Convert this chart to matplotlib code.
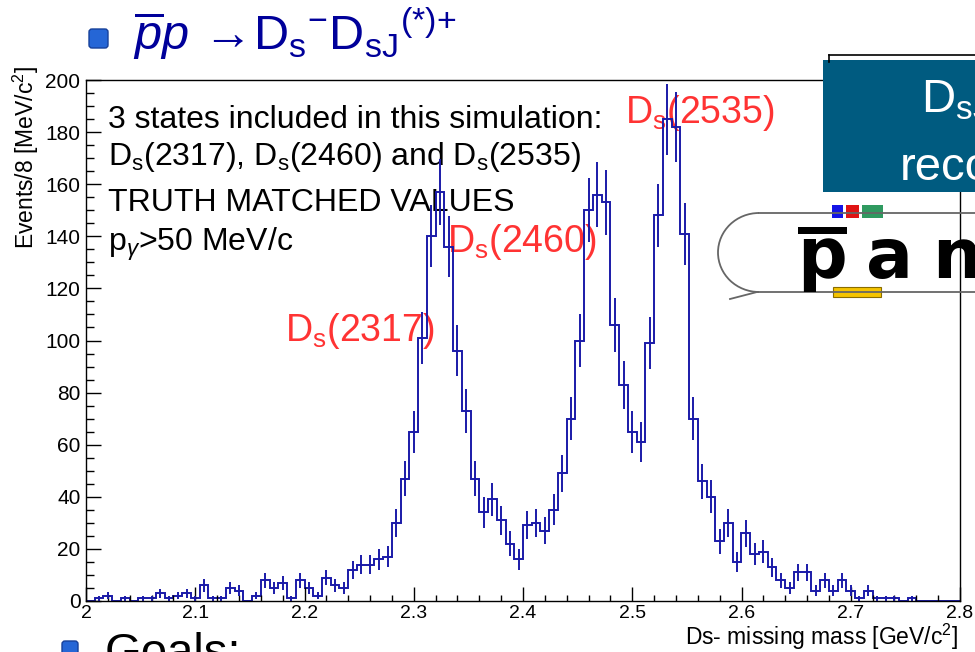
import numpy as np
import matplotlib
matplotlib.use('Agg')
import matplotlib.pyplot as plt
from matplotlib.patches import Rectangle, FancyBboxPatch, Arc
from matplotlib.ticker import MultipleLocator, FixedLocator, FixedFormatter

plt.rcParams['font.family'] = ['Liberation Sans', 'DejaVu Sans']
plt.rcParams['mathtext.fontset'] = 'custom'
plt.rcParams['mathtext.rm'] = 'Liberation Sans'
plt.rcParams['mathtext.it'] = 'Liberation Sans:italic'
plt.rcParams['mathtext.bf'] = 'Liberation Sans:bold'

# Ds- missing mass histogram, 8 MeV bins from 2.0 to 2.8 GeV
mass_lo, mass_hi, n_bins = 2.0, 2.8, 100
low_mass = [0, 1, 2, 0, 1, 0, 1, 1, 3, 1, 2, 3, 1, 6, 1, 1, 5, 4, 0, 2,
            8, 5, 7, 1, 8, 5, 2, 9, 6, 5, 12, 14, 14, 16, 17, 30]
peak_2317 = [47, 65, 101, 140, 157, 136, 96, 73, 47, 34, 39, 31, 22, 16]
peak_2460_2535 = [29, 30, 27, 35, 49, 70, 100, 150, 156, 153, 106, 83, 65, 61,
                  99, 148, 185, 182, 141, 70]
high_tail = [46, 40, 23, 30, 15, 26, 18, 19, 13, 8, 5, 11, 11, 4, 8, 4, 8, 4, 1, 4,
             1, 1, 1, 0, 1, 0, 0, 0, 0, 0]
counts = np.array(low_mass + peak_2317 + peak_2460_2535 + high_tail, dtype=float)

x_ticks = [2.0, 2.1, 2.2, 2.3, 2.4, 2.5, 2.6, 2.7, 2.8]
x_ticklabels = ['2', '2.1', '2.2', '2.3', '2.4', '2.5', '2.6', '2.7', '2.8']
y_ticks = [0, 20, 40, 60, 80, 100, 120, 140, 160, 180, 200]

info_lines = ['3 states included in this simulation:',
              r'D$_\mathrm{s}$(2317), D$_\mathrm{s}$(2460) and D$_\mathrm{s}$(2535)',
              'TRUTH MATCHED VALUES',
              r'p$_\gamma$>50 MeV/c']
state_labels = [r'D$_\mathrm{s}$(2317)', r'D$_\mathrm{s}$(2460)', r'D$_\mathrm{s}$(2535)']

W, H = 975, 652
fig = plt.figure(figsize=(W / 100, H / 100), dpi=100)

# pixel-coordinate layers (below and above the histogram frame)
under = fig.add_axes([0, 0, 1, 1], zorder=0)
under.set_xlim(0, W); under.set_ylim(H, 0); under.axis('off')

ax = fig.add_axes([86 / W, (H - 601) / H, 874 / W, 521 / H], zorder=1)
ax.patch.set_alpha(0)

over = fig.add_axes([0, 0, 1, 1], zorder=2)
over.set_xlim(0, W); over.set_ylim(H, 0); over.axis('off')

# histogram
edges = np.linspace(mass_lo, mass_hi, n_bins + 1)
centers = 0.5 * (edges[:-1] + edges[1:])
hcol = '#1a1aa8'
ax.stairs(counts, edges, color=hcol, lw=1.4)
ax.errorbar(centers, counts, yerr=np.sqrt(counts), fmt='none', ecolor=hcol,
            elinewidth=1.4, capsize=0)

ax.set_xlim(mass_lo, mass_hi)
ax.set_ylim(0, 200)
ax.xaxis.set_major_locator(FixedLocator(x_ticks))
ax.xaxis.set_major_formatter(FixedFormatter(x_ticklabels))
ax.xaxis.set_minor_locator(MultipleLocator(0.02))
ax.yaxis.set_major_locator(FixedLocator(y_ticks))
ax.yaxis.set_minor_locator(MultipleLocator(5))
ax.tick_params(which='both', direction='in', top=False, right=False, width=1.0)
ax.tick_params(axis='x', which='major', length=10, labelsize=14, pad=3)
ax.tick_params(axis='x', which='minor', length=4.5)
ax.tick_params(axis='y', which='major', length=11, labelsize=15, pad=4)
ax.tick_params(axis='y', which='minor', length=5.5)
for s in ax.spines.values():
    s.set_linewidth(1.0)

# axis titles
under.text(958, 645, r'Ds- missing mass [GeV/c$^2$]', fontsize=16.5, ha='right', va='baseline')
under.text(26, 66, r'Events/8 [MeV/c$^2$]', fontsize=16.5, rotation=90, ha='center', va='top')

# text block and state labels (drawn under the histogram line)
for line, yb in zip(info_lines, [128, 165, 211, 251]):
    under.text(108, yb, line, fontsize=23, ha='left', va='baseline', color='black')
for lab, (px, py) in zip(state_labels, [(285, 341), (447, 252), (625, 123)]):
    under.text(px, py, lab, fontsize=27, ha='left', va='baseline', color='#ff3333')

# slide title
over.add_patch(FancyBboxPatch((89, 29), 19, 19, boxstyle='round,pad=0,rounding_size=3',
                              fc='#2566d6', ec='#16409a', lw=1))
over.text(133, 50,
          r'$\overline{p}p\,\rightarrow\!\mathrm{D_s}{}^{-}\mathrm{D_{sJ}}{}^{(*)\!+}$',
          fontsize=35, color='#00009a', ha='left', va='baseline')

# bottom bullet (cut off)
over.add_patch(FancyBboxPatch((62, 641), 16, 16, boxstyle='round,pad=0,rounding_size=3',
                              fc='#2566d6', ec='#16409a', lw=1))
over.text(105, 666, 'Goals:', fontsize=34, ha='left', va='baseline', color='black')

# box behind the teal banner
over.plot([829, 980], [55, 55], color='black', lw=1.2)
over.plot([829, 829], [55, 62], color='black', lw=1.2)
# teal banner
over.add_patch(Rectangle((823, 60), 170, 132, fc='#005b80', ec='none'))
over.text(921, 112, r'D$_\mathrm{sJ}$', fontsize=34, color='white', ha='left', va='baseline')
over.text(900, 180, 'reconstruction', fontsize=34, color='white', ha='left', va='baseline')

# PANDA logo
lc = '#666666'
over.add_patch(Arc((759, 252.5), 82, 79, theta1=90, theta2=270, color=lc, lw=1.3))
over.plot([759, 980], [213, 213], color=lc, lw=1.3)
over.plot([730, 757, 980], [299, 292, 292], color=lc, lw=1.3)
over.add_patch(Rectangle((832, 205), 11, 13, fc='#1414e6', ec='none'))
over.add_patch(Rectangle((846, 205), 13, 13, fc='#e01414', ec='none'))
over.add_patch(Rectangle((862, 205), 21, 13, fc='#2f9a60', ec='none'))
over.add_patch(Rectangle((833, 287), 48, 10, fc='#f5c400', ec='#8a6d00', lw=0.8))
for ch, px in zip('pan', [797, 866, 932]):
    over.text(px, 278, ch, fontsize=50, fontweight='heavy', family='DejaVu Sans',
              ha='left', va='baseline', color='black')
over.add_patch(Rectangle((798, 227), 49, 7, fc='black', ec='none'))

fig.savefig('out.png', dpi=100)
